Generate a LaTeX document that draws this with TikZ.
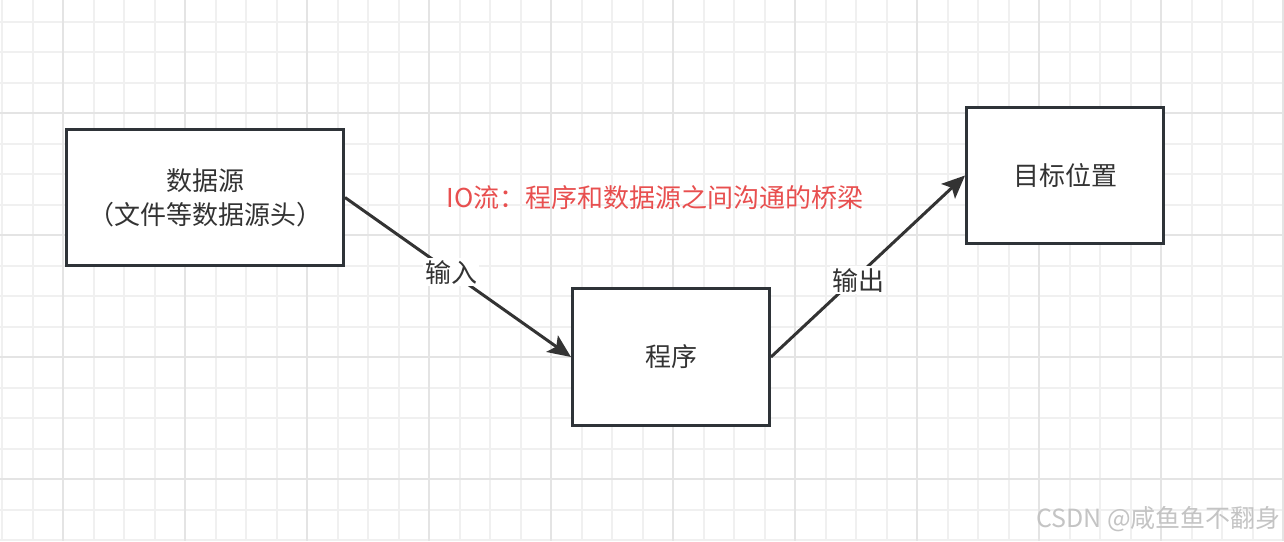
\documentclass[tikz,border=0pt]{standalone}
\usepackage{fontspec}
\setmainfont{Noto Sans CJK SC}
\usetikzlibrary{arrows.meta}
\definecolor{gridminor}{HTML}{F0F0F0}
\definecolor{gridmajor}{HTML}{E4E4E4}
\definecolor{boxline}{HTML}{2E3338}
\definecolor{ink}{HTML}{333333}
\definecolor{redtxt}{HTML}{E84F4F}
\definecolor{wm}{HTML}{C4C4C4}
\tikzset{
  minorline/.style={gridminor, line width=2pt},
  majorline/.style={gridmajor, line width=2pt},
  procbox/.style={draw=boxline, line width=3pt, fill=white, text=ink,
    font=\fontsize{26}{34}\selectfont, align=center, inner sep=0pt},
  flow/.style={ink, line width=3pt, -{Stealth[length=23pt,width=20pt,inset=5pt]}},
  flowlabel/.style={fill=white, text=ink, font=\fontsize{26}{30}\selectfont, inner sep=2pt},
}
\begin{document}
\begin{tikzpicture}[x=1pt,y=-1pt]
\useasboundingbox (0,0) rectangle (1284,541);
\fill[white] (0,0) rectangle (1284,541);
% grid
\foreach \i in {0,...,42} {
  \pgfmathsetmacro\gx{2+30.5*\i}
  \draw[minorline] (\gx,0) -- (\gx,541);
}
\foreach \i in {0,...,17} {
  \pgfmathsetmacro\gy{21.5+30.5*\i}
  \draw[minorline] (0,\gy) -- (1284,\gy);
}
\foreach \i in {0,...,10} {
  \pgfmathsetmacro\gx{63+122*\i}
  \draw[majorline] (\gx,0) -- (\gx,541);
}
\foreach \i in {0,...,3} {
  \pgfmathsetmacro\gy{113+122*\i}
  \draw[majorline] (0,\gy) -- (1284,\gy);
}
% boxes
\node[procbox, minimum width=277pt, minimum height=136pt] (src) at (205,197.5) {数据源\\（文件等数据源头）};
\node[procbox, minimum width=197pt, minimum height=137pt] (prog) at (671,357) {程序};
\node[procbox, minimum width=197pt, minimum height=136pt] (dst) at (1065,175.5) {目标位置};
% connectors
\draw[flow] (src.east) -- node[flowlabel, pos=0.47] (lin) {输入} (prog.west);
\draw[flow] (prog.east) -- node[flowlabel, pos=0.45, yshift=-5pt] (lout) {输出} (dst.west);
% red caption
\node[text=redtxt, font=\fontsize{26}{30}\selectfont, inner sep=0pt] (cap) at (655,198) {IO流：程序和数据源之间沟通的桥梁};
% watermark
\node[text=wm, font=\fontsize{25}{28}\selectfont, inner sep=0pt, anchor=east] (wmk) at (1281,519) {CSDN @咸鱼鱼不翻身};
\end{tikzpicture}
\end{document}
